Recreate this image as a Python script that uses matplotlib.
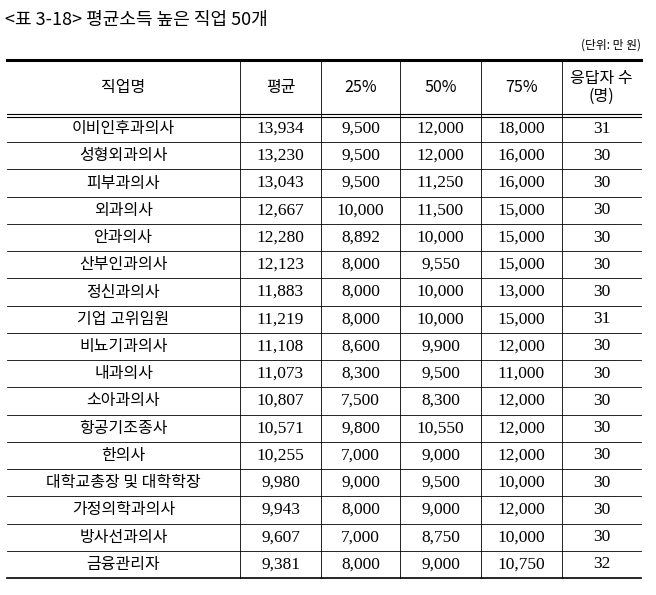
import matplotlib
matplotlib.use('Agg')
import matplotlib.pyplot as plt

KR = ['Noto Sans CJK KR', 'DejaVu Sans']
SERIF = ['Liberation Serif', 'DejaVu Serif']

headers = ["직업명", "평균", "25%", "50%", "75%", "응답자 수\n(명)"]
jobs = ["이비인후과의사", "성형외과의사", "피부과의사", "외과의사", "안과의사",
        "산부인과의사", "정신과의사", "기업 고위임원", "비뇨기과의사", "내과의사",
        "소아과의사", "항공기조종사", "한의사", "대학교총장 및 대학학장",
        "가정의학과의사", "방사선과의사", "금융관리자"]
mean = [13934, 13230, 13043, 12667, 12280, 12123, 11883, 11219, 11108, 11073,
        10807, 10571, 10255, 9980, 9943, 9607, 9381]
p25 = [9500, 9500, 9500, 10000, 8892, 8000, 8000, 8000, 8600, 8300,
       7500, 9800, 7000, 9000, 8000, 7000, 8000]
p50 = [12000, 12000, 11250, 11500, 10000, 9550, 10000, 10000, 9900, 9500,
       8300, 10550, 9000, 9500, 9000, 8750, 9000]
p75 = [18000, 16000, 16000, 15000, 15000, 15000, 13000, 15000, 12000, 11000,
       12000, 12000, 12000, 10000, 12000, 10000, 10750]
resp = [31, 30, 30, 30, 30, 30, 30, 31, 30, 30, 30, 30, 30, 30, 30, 30, 32]

W, H = 656, 595
fig = plt.figure(figsize=(W / 100, H / 100), dpi=100)
ax = fig.add_axes([0, 0, 1, 1])
ax.set_xlim(0, W)
ax.set_ylim(H, 0)
ax.axis('off')

xs = [7, 240, 321, 400, 481, 562, 641]
top, hb = 60, 115
rh = (578 - hb) / len(jobs)
bottom = hb + rh * len(jobs)

ax.text(5, 20, "<표 3-18> 평균소득 높은 직업 50개", family=KR, fontsize=13, va='center')
ax.text(641, 45, "(단위: 만 원)", family=KR, fontsize=8.5, va='center', ha='right')

# 가로선
ax.plot([xs[0], xs[-1]], [top, top], color='black', lw=2.2)
ax.plot([xs[0], xs[-1]], [hb - 1.5, hb - 1.5], color='black', lw=0.8)
ax.plot([xs[0], xs[-1]], [hb + 1.5, hb + 1.5], color='black', lw=0.8)
ax.plot([xs[0], xs[-1]], [bottom, bottom], color='black', lw=1.2)
for i in range(1, len(jobs)):
    y = hb + rh * i
    ax.plot([xs[0], xs[-1]], [y, y], color='black', lw=0.6)
# 세로선
for x in xs[1:-1]:
    ax.plot([x, x], [top, bottom], color='black', lw=0.6)

for j, h in enumerate(headers):
    cx = (xs[j] + xs[j + 1]) / 2
    ax.text(cx, (top + hb) / 2, h, family=KR, fontsize=11.5, ha='center', va='center',
            linespacing=1.0)

for i, job in enumerate(jobs):
    cy = hb + rh * (i + 0.5)
    ax.text((xs[0] + xs[1]) / 2, cy, job, family=KR, fontsize=11.5, ha='center', va='center')
    vals = [f"{mean[i]:,}", f"{p25[i]:,}", f"{p50[i]:,}", f"{p75[i]:,}", str(resp[i])]
    for j, v in enumerate(vals):
        cx = (xs[j + 1] + xs[j + 2]) / 2
        ax.text(cx, cy, v, family=SERIF, fontsize=12.5, ha='center', va='center')

fig.savefig("out.png", dpi=100)
